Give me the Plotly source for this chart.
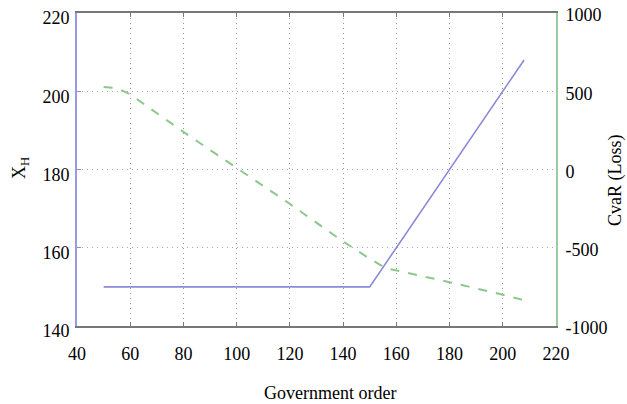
import plotly.graph_objects as go

# Data
order_xh = [50, 150, 208]
xh_values = [150, 150, 208]

order_cvar = [50, 55, 60, 80, 100, 120, 140, 150, 156, 160, 180, 200, 208]
cvar_values = [527, 520, 480, 240, 10, -220, -460, -570, -630, -645, -720, -800, -835]

x_ticks = [40, 60, 80, 100, 120, 140, 160, 180, 200, 220]
y_ticks = [140, 160, 180, 200, 220]
y2_ticks = [-1000, -500, 0, 500, 1000]
y2_labels = ["-1000", "-500", "0", "500", "1000"]

FONT = "Liberation Serif"
TICK = 18
L, R, T, B = 77, 71, 13, 78
W, H = 627, 404

fig = go.Figure()
fig.add_trace(go.Scatter(x=order_xh, y=xh_values, mode="lines",
                         line=dict(color="#8a8ad6", width=1.6), yaxis="y"))
fig.add_trace(go.Scatter(x=order_cvar, y=cvar_values, mode="lines",
                         line=dict(color="#8cc88c", width=2, dash="dash"), yaxis="y2"))

fig.update_layout(
    width=W, height=H,
    margin=dict(l=L, r=R, t=T, b=B, autoexpand=False),
    paper_bgcolor="white", plot_bgcolor="white",
    showlegend=False,
    font=dict(family=FONT, size=18, color="black"),
    xaxis=dict(range=[40, 220], tickvals=x_ticks, showline=True, linecolor="#777777",
               linewidth=2, mirror="ticks", ticks="inside", ticklen=4, tickcolor="#777777",
               showgrid=True, gridcolor="#999999", griddash="1px,4px", gridwidth=1.2,
               zeroline=False, ticklabelstandoff=10, automargin=False,
               tickfont=dict(family=FONT, size=TICK)),
    yaxis=dict(range=[140, 220], tickvals=y_ticks, showline=True, linecolor="#9a9ae0",
               linewidth=2, ticks="inside", ticklen=4, tickcolor="#8a8ad6",
               showgrid=True, gridcolor="#a0a0e0", griddash="1px,4px", gridwidth=1.2,
               zeroline=False, ticklabelstandoff=2, ticklabelshift=5, automargin=False,
               tickfont=dict(family=FONT, size=TICK)),
    yaxis2=dict(range=[-1000, 1000], tickvals=y2_ticks, ticktext=y2_labels,
                overlaying="y", side="right",
                showline=True, linecolor="#9ccc9c", linewidth=2, ticks="",
                showgrid=False, zeroline=False, ticklabelstandoff=4, ticklabelshift=2,
                automargin=False, tickfont=dict(family=FONT, size=TICK)),
)

pw = W - L - R
ph = H - T - B
def ann(text, px, py, size, angle=0):
    fig.add_annotation(text=text, x=(px - L) / pw, y=1 - (py - T) / ph,
                       xref="paper", yref="paper", xanchor="center", yanchor="middle",
                       showarrow=False, textangle=angle,
                       font=dict(family=FONT, size=size))

ann("X<sub>H</sub>", 20, 168, 18, -90)
ann("CvaR (Loss)", 615, 180, 18, -90)
ann("Government order", 330, 393, 18)

fig.write_html("out.html", config={"displayModeBar": False})

# remove the browser's default page margin so the figure sits at the window origin
with open("out.html", "r", encoding="utf-8") as f:
    html = f.read()
html = html.replace("<body>", '<body style="margin:0;padding:0;overflow:hidden">', 1)
with open("out.html", "w", encoding="utf-8") as f:
    f.write(html)
